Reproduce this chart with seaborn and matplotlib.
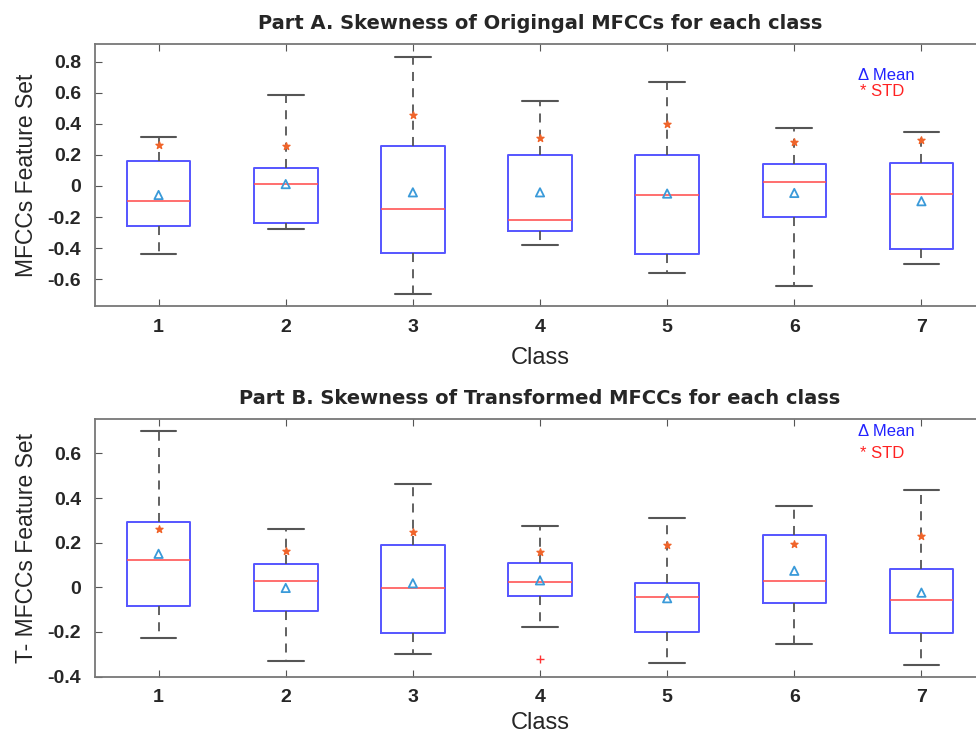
import numpy as np
import pandas as pd
import seaborn as sns
import matplotlib.pyplot as plt

classes = ["1", "2", "3", "4", "5", "6", "7"]

# Part A: five-number summaries (whisker low, q1, median, q3, whisker high)
a_lo = [-0.44, -0.28, -0.695, -0.38, -0.56, -0.645, -0.50]
a_q1 = [-0.257, -0.238, -0.433, -0.287, -0.435, -0.201, -0.403]
a_med = [-0.098, 0.015, -0.146, -0.219, -0.06, 0.024, -0.049]
a_q3 = [0.161, 0.118, 0.26, 0.20, 0.197, 0.143, 0.146]
a_hi = [0.315, 0.585, 0.83, 0.545, 0.671, 0.371, 0.349]
a_mean = [-0.058, 0.012, -0.041, -0.041, -0.049, -0.045, -0.098]
a_std = [0.262, 0.255, 0.457, 0.307, 0.401, 0.281, 0.298]

# Part B
b_lo = [-0.229, -0.33, -0.299, -0.176, -0.339, -0.252, -0.348]
b_q1 = [-0.085, -0.105, -0.205, -0.037, -0.199, -0.07, -0.205]
b_med = [0.124, 0.027, -0.005, 0.025, -0.043, 0.03, -0.057]
b_q3 = [0.291, 0.106, 0.189, 0.109, 0.021, 0.236, 0.083]
b_hi = [0.70, 0.261, 0.461, 0.273, 0.31, 0.364, 0.436]
b_mean = [0.15, -0.003, 0.018, 0.031, -0.049, 0.074, -0.024]
b_std = [0.261, 0.163, 0.249, 0.158, 0.189, 0.194, 0.231]
b_out_cls = ["4"]
b_out_val = [-0.323]

sns.set_style("white")
plt.rcParams['font.family'] = ['Liberation Sans', 'DejaVu Sans']

fig = plt.figure(figsize=(9.76, 7.35), dpi=100)
ax1 = fig.add_axes([95 / 976, (735 - 306) / 735, 890 / 976, 262 / 735])
ax2 = fig.add_axes([95 / 976, (735 - 677) / 735, 890 / 976, 258 / 735])


def panel(ax, lo, q1, med, q3, hi, mean, std, title, ylabel, ylim, yticks,
          out_cls=(), out_val=(), xpad=8):
    rows = []
    for c, *vals in zip(classes, lo, q1, med, q3, hi):
        for v in vals:
            rows.append({"cls": c, "val": v})
    df = pd.DataFrame(rows)
    sns.boxplot(data=df, x="cls", y="val", order=classes, ax=ax, whis=np.inf,
                width=0.5, fill=False, linewidth=1.4,
                boxprops=dict(color="#5555ff"),
                medianprops=dict(color="#ff5555", linewidth=1.2),
                whiskerprops=dict(color="#555555", linestyle=(0, (5, 4)), linewidth=1.3),
                capprops=dict(color="#555555", linewidth=1.5),
                capwidths=0.28)
    pos = np.arange(len(classes))
    ax.scatter(pos, mean, marker="^", s=36, facecolors="none",
               edgecolors="#3a9ad9", linewidths=1.3, zorder=5)
    ax.scatter(pos, std, marker="*", s=28, color="#f0642a", zorder=5)
    if len(out_cls):
        ax.scatter([classes.index(c) for c in out_cls], out_val, marker="+",
                   s=40, color="#ff3333", linewidths=1.0, zorder=5)
    ax.set_xlim(-0.5, 6.5)
    ax.set_ylim(*ylim)
    ax.set_yticks(yticks)
    ax.set_yticklabels(["0" if abs(t) < 1e-9 else f"{t:.1f}" for t in yticks])
    ax.set_title(title, fontsize=14, fontweight="bold", pad=11,
                 family=["DejaVu Sans"])
    ax.set_ylabel(ylabel, fontsize=16.5, labelpad=7)
    ax.set_xlabel("Class", fontsize=17, labelpad=xpad)
    ax.tick_params(axis="both", direction="in", length=5, color="#555555",
                   labelsize=14, top=True, right=True, bottom=True, left=True)
    ax.tick_params(axis="x", pad=9)
    ax.tick_params(axis="y", pad=10)
    for lab in ax.get_xticklabels() + ax.get_yticklabels():
        lab.set_fontweight("bold")
    for s in ax.spines.values():
        s.set_color("#777777")
        s.set_linewidth(1.3)


panel(ax1, a_lo, a_q1, a_med, a_q3, a_hi, a_mean, a_std,
      "Part A. Skewness of Origingal MFCCs for each class", "MFCCs Feature Set",
      (-0.772, 0.913), [-0.6, -0.4, -0.2, 0, 0.2, 0.4, 0.6, 0.8])
ax1.text(0.857, 0.878, "\u0394 Mean", transform=ax1.transAxes, color="#2222ff",
         fontsize=12, ha="left", va="center")
ax1.text(0.859, 0.817, "* STD", transform=ax1.transAxes, color="#ff2222",
         fontsize=12, ha="left", va="center")

panel(ax2, b_lo, b_q1, b_med, b_q3, b_hi, b_mean, b_std,
      "Part B. Skewness of Transformed MFCCs for each class", "T- MFCCs Feature Set",
      (-0.402, 0.754), [-0.4, -0.2, 0, 0.2, 0.4, 0.6], b_out_cls, b_out_val,
      xpad=4)
ax2.text(0.857, 0.953, "\u0394 Mean", transform=ax2.transAxes, color="#2222ff",
         fontsize=12, ha="left", va="center")
ax2.text(0.859, 0.868, "* STD", transform=ax2.transAxes, color="#ff2222",
         fontsize=12, ha="left", va="center")

fig.savefig("out.png", dpi=100)
